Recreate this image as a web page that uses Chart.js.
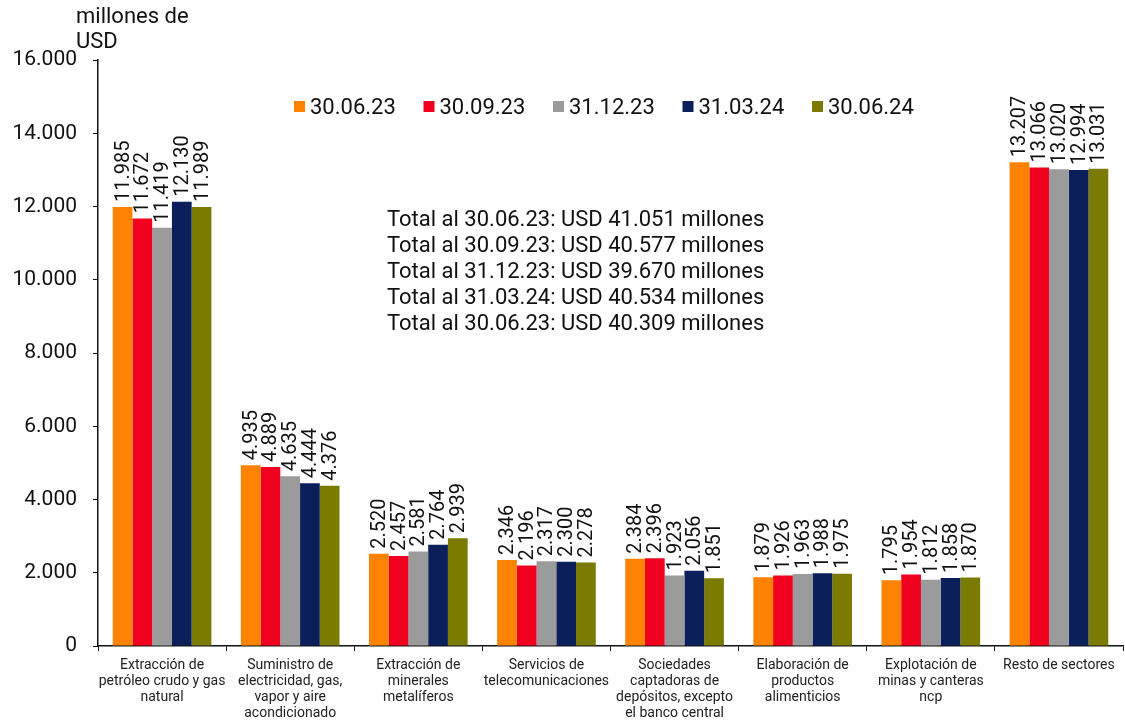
<!DOCTYPE html>
<html>
<head>
<meta charset="utf-8">
<script src="https://cdn.jsdelivr.net/npm/chart.js@4"></script>
<style>
  html, body { margin: 0; padding: 0; background: #fff; }
  #wrap { width: 1125px; height: 724px; position: relative; }
</style>
</head>
<body>
<div id="wrap"><canvas id="chart" width="1125" height="724"></canvas></div>
<script>
// Categories (multi-line labels)
const categories = [
  ["Extracción de", "petróleo crudo y gas", "natural"],
  ["Suministro de", "electricidad, gas,", "vapor y aire", "acondicionado"],
  ["Extracción de", "minerales", "metalíferos"],
  ["Servicios de", "telecomunicaciones"],
  ["Sociedades", "captadoras de", "depósitos, excepto", "el banco central"],
  ["Elaboración de", "productos", "alimenticios"],
  ["Explotación de", "minas y canteras", "ncp"],
  ["Resto de sectores"]
];

const seriesNames = ["30.06.23", "30.09.23", "31.12.23", "31.03.24", "30.06.24"];
const seriesColors = ["#FF8300", "#F0001E", "#9B9B9B", "#0B1F5B", "#7A7B00"];

const values_300623 = [11985, 4935, 2520, 2346, 2384, 1879, 1795, 13207];
const values_300923 = [11672, 4889, 2457, 2196, 2396, 1926, 1954, 13066];
const values_311223 = [11419, 4635, 2581, 2317, 1923, 1963, 1812, 13020];
const values_310324 = [12130, 4444, 2764, 2300, 2056, 1988, 1858, 12994];
const values_300624 = [11989, 4376, 2939, 2278, 1851, 1975, 1870, 13031];

const yTicks = [0, 2000, 4000, 6000, 8000, 10000, 12000, 14000, 16000];

const totalLines = [
  "Total al 30.06.23: USD 41.051 millones",
  "Total al 30.09.23: USD 40.577 millones",
  "Total al 31.12.23: USD 39.670 millones",
  "Total al 31.03.24: USD 40.534 millones",
  "Total al 30.06.23: USD 40.309 millones"
];

const FONT = "Roboto";

function fmt(v) {
  return String(v).replace(/\B(?=(\d{3})+(?!\d))/g, ".");
}

const allValues = [values_300623, values_300923, values_311223, values_310324, values_300624];

// Value labels, legend, totals and axis title
const extrasPlugin = {
  id: "extras",
  afterDatasetsDraw(chart) {
    const ctx = chart.ctx;

    // rotated value labels above each bar
    ctx.save();
    ctx.fillStyle = "#111";
    ctx.font = "20px " + FONT;
    chart.data.datasets.forEach((ds, i) => {
      const meta = chart.getDatasetMeta(i);
      meta.data.forEach((bar, j) => {
        ctx.save();
        ctx.translate(bar.x, bar.y - 5);
        ctx.rotate(-Math.PI / 2);
        ctx.textAlign = "left";
        ctx.textBaseline = "middle";
        ctx.fillText(fmt(ds.data[j]), 0, 1);
        ctx.restore();
      });
    });
    ctx.restore();

    // legend
    ctx.save();
    ctx.font = "22px " + FONT;
    ctx.textBaseline = "middle";
    ctx.textAlign = "left";
    let lx = 294;
    const ly = 107;
    seriesNames.forEach((name, i) => {
      ctx.fillStyle = seriesColors[i];
      ctx.fillRect(lx, ly - 6, 11, 11);
      ctx.fillStyle = "#111";
      ctx.fillText(name, lx + 16, ly + 1);
      lx += 129.5;
    });
    ctx.restore();

    // totals text block
    ctx.save();
    ctx.font = "22px " + FONT;
    ctx.fillStyle = "#111";
    ctx.textBaseline = "middle";
    ctx.textAlign = "left";
    totalLines.forEach((t, i) => {
      ctx.fillText(t, 387, 220 + i * 26);
    });
    ctx.restore();

    // y axis title
    ctx.save();
    ctx.font = "22px " + FONT;
    ctx.fillStyle = "#111";
    ctx.textBaseline = "middle";
    ctx.textAlign = "left";
    ctx.fillText("millones de", 76, 17);
    ctx.fillText("USD", 76, 42);
    ctx.restore();
  }
};

new Chart(document.getElementById("chart"), {
  type: "bar",
  data: {
    labels: categories,
    datasets: allValues.map((vals, i) => ({
      label: seriesNames[i],
      data: vals,
      backgroundColor: seriesColors[i],
      borderWidth: 0,
      categoryPercentage: 0.77,
      barPercentage: 1.0
    }))
  },
  options: {
    responsive: false,
    animation: false,
    layout: { padding: { top: 60, right: 2, left: 0, bottom: 0 } },
    plugins: {
      legend: { display: false },
      tooltip: { enabled: false }
    },
    scales: {
      x: {
        grid: { display: true, drawOnChartArea: false, drawTicks: true, tickLength: 5, color: "#111", offset: true },
        border: { display: true, color: "#111", width: 1.5 },
        ticks: {
          color: "#222",
          font: { family: FONT, size: 14, lineHeight: 1.14 },
          padding: 7,
          maxRotation: 0,
          autoSkip: false
        },
        afterFit(scale) { scale.height = 78; }
      },
      y: {
        min: 0,
        max: 16000,
        afterBuildTicks(scale) { scale.ticks = yTicks.map(v => ({ value: v })); },
        grid: { display: true, drawOnChartArea: false, drawTicks: true, tickLength: 5, color: "#111" },
        border: { display: true, color: "#111", width: 1.5 },
        ticks: {
          color: "#111",
          font: { family: FONT, size: 21 },
          padding: 16,
          callback: v => fmt(v)
        },
        afterFit(scale) { scale.width = 98; }
      }
    }
  },
  plugins: [extrasPlugin]
});
</script>
</body>
</html>
